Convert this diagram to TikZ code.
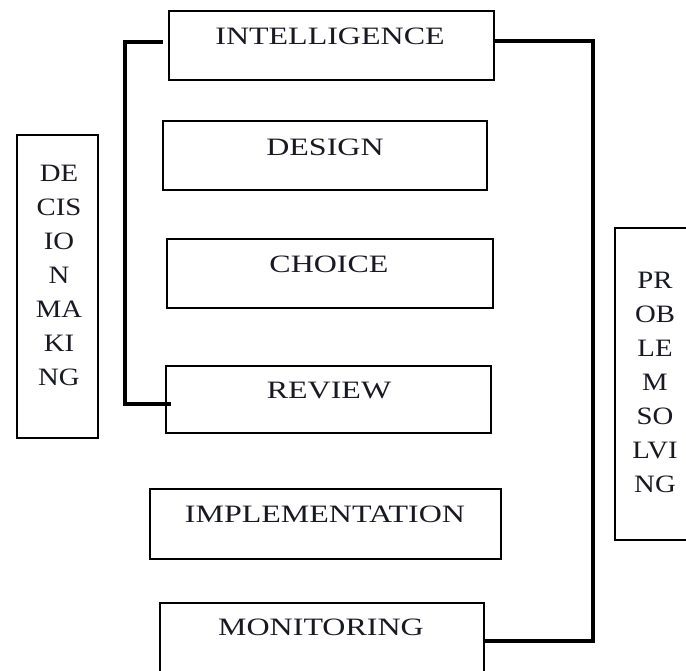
\documentclass[tikz,border=0pt]{standalone}
\usepackage{fontspec}
\setmainfont{Liberation Serif}
\usepackage{graphicx}
% widened capitals used for the stage labels and the side captions
\newcommand\wideword[1]{\scalebox{1.28}[1]{#1}}
\newcommand\sideword[1]{\scalebox{1.15}[1]{#1}}
\definecolor{ink}{RGB}{25,25,35}
\begin{document}
\begin{tikzpicture}[x=1pt,y=-1pt,
  stage/.style={draw=black, line width=2.9pt, inner sep=0pt, outer sep=0pt},
  phase/.style={text=ink, font=\fontsize{25}{25}\selectfont, inner sep=0pt},
  sidetext/.style={text=ink, align=center, font=\fontsize{25}{34}\selectfont, inner sep=0pt},
  link/.style={line width=3.3pt, line join=miter}]
\useasboundingbox (0,0) rectangle (686,671);
\clip (0,0) rectangle (686,671);
\fill[white] (0,0) rectangle (686,671);

% stage boxes
\node[stage, minimum width=325pt, minimum height=69pt] (intel)  at (331.5,45.5) {};
\node[stage, minimum width=324pt, minimum height=69pt] (design) at (325,155.5) {};
\node[stage, minimum width=326pt, minimum height=69pt] (choice) at (330,273.5) {};
\node[stage, minimum width=325pt, minimum height=67pt] (review) at (328.5,399.5) {};
\node[stage, minimum width=351pt, minimum height=70pt] (implem) at (325.5,524) {};
\node[stage, minimum width=324pt, minimum height=87pt] (monit)  at (322,646.5) {};

% stage labels
\node[phase] (intelT)  at (330,36.5)  {\wideword{INTELLIGENCE}};
\node[phase] (designT) at (325,147.5) {\wideword{DESIGN}};
\node[phase] (choiceT) at (329,264)   {\wideword{CHOICE}};
\node[phase] (reviewT) at (329,391)   {\wideword{REVIEW}};
\node[phase] (implemT) at (325,514)   {\wideword{IMPLEMENTATION}};
\node[phase] (monitT)  at (321,627.5) {\wideword{MONITORING}};

% side captions
\node[stage, minimum width=81pt, minimum height=303pt] (decision) at (57.5,286.5) {};
\node[sidetext] (decisionT) at (59,275) {\sideword{DE}\\\sideword{CIS}\\\sideword{IO}\\\sideword{N}\\\sideword{MA}\\\sideword{KI}\\\sideword{NG}};
\node[stage, minimum width=82pt, minimum height=312pt] (problem) at (656,384) {};
\node[sidetext] (problemT) at (655,382.5) {\sideword{PR}\\\sideword{OB}\\\sideword{LE}\\\sideword{M}\\\sideword{SO}\\\sideword{LVI}\\\sideword{NG}};

% decision-making span: intelligence to review
\draw[link] ([shift={(-6,-3.5)}]intel.west) -- ++(-38,0) |- ([shift={(5,4.5)}]review.west);
% problem-solving span: intelligence to monitoring
\draw[link] ([shift={(0,-4.5)}]intel.east) -- ++(99,0) |- ([shift={(0,-5.5)}]monit.east);
\end{tikzpicture}
\end{document}
